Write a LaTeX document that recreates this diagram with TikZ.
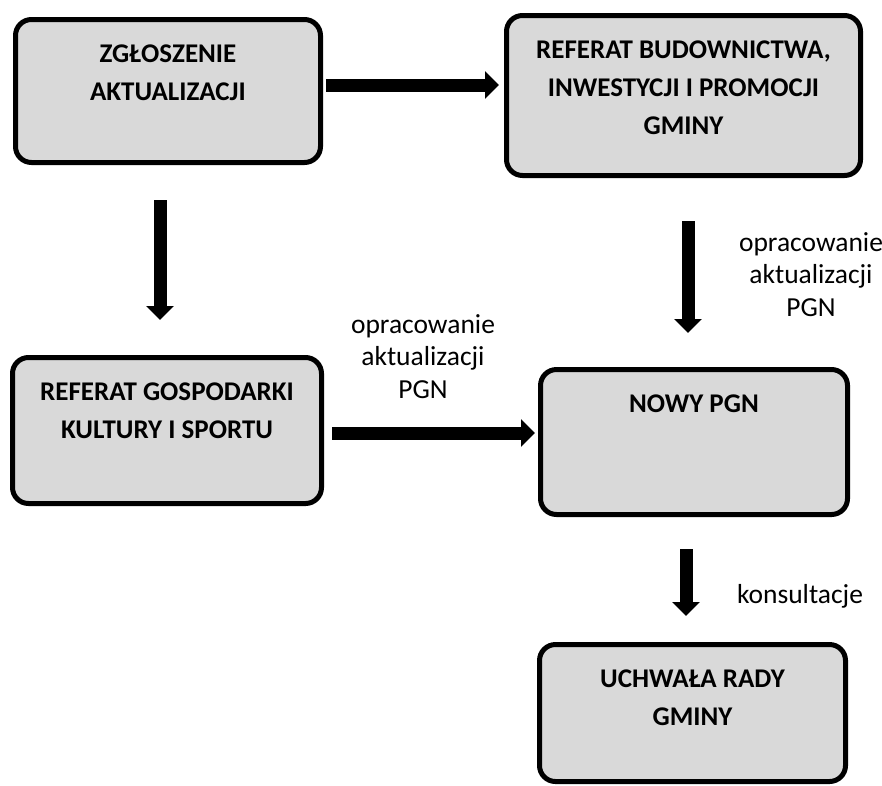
\documentclass[tikz,border=0pt]{standalone}
\usepackage{fontspec}
\setmainfont{Carlito}
\usetikzlibrary{arrows.meta}
\definecolor{boxgray}{HTML}{D9D9D9}

\tikzset{
  box/.style 2 args={draw, line width=5pt, rounded corners=16pt, fill=boxgray,
    inner sep=0pt, outer sep=0pt, anchor=north west,
    execute at begin node={\begin{minipage}[t][#2][t]{#1}\centering
      \fontsize{27}{38}\selectfont\bfseries\rule{0pt}{43pt}},
    execute at end node={\end{minipage}}},
  fat/.style={line width=13pt, -{Triangle[width=27pt,length=14pt]}},
  lbl/.style={align=center, font=\fontsize{27.5}{32.5}\selectfont, inner sep=0pt, anchor=base}
}

\begin{document}
\begin{tikzpicture}[x=1pt,y=-1pt]
	\useasboundingbox (0,0) rectangle (882,785);

	% boxes
	\node[box={305pt}{143pt}] (zgl) at (15.5,19.5) {ZGŁOSZENIE\\AKTUALIZACJI};
	\node[box={354pt}{160pt}] (bud) at (506.5,15.5) {REFERAT BUDOWNICTWA,\\INWESTYCJI I PROMOCJI\\GMINY};
	\node[box={309pt}{146pt}] (gos) at (12.5,357.5) {REFERAT GOSPODARKI\\KULTURY I SPORTU};
	\node[box={307pt}{145pt}] (pgn) at (540.5,369.5) {NOWY PGN};
	\node[box={306pt}{137pt}] (uch) at (539.5,644.5) {UCHWAŁA RADY\\GMINY};

	% labels (base = last line)
	\node[lbl] (opr1) at (423,398) {opracowanie\\aktualizacji\\PGN};
	\node[lbl] (opr2) at (811,316) {opracowanie\\aktualizacji\\PGN};
	\node[lbl] (kons) at (800,603) {konsultacje};

	% arrows
	\draw[fat, shorten <=5.5pt, shorten >=7.5pt] ([yshift=6pt]zgl.east) -- ([yshift=6pt]zgl.east -| bud.west);
	\draw[fat, shorten <=37.5pt, shorten >=37.5pt] ([xshift=-8pt]zgl.south) -- ([xshift=-8pt]zgl.south |- gos.north);
	\draw[fat, shorten <=10.5pt, shorten >=5.5pt] ([yshift=-2.5pt]gos.east) -- ([yshift=-2.5pt]gos.east -| pgn.west);
	\draw[fat, shorten <=45.5pt, shorten >=36.5pt] ([xshift=4.5pt]bud.south) -- ([xshift=4.5pt]bud.south |- pgn.north);
	\draw[fat, shorten <=34.5pt, shorten >=28.5pt] ([xshift=-8pt]pgn.south) -- ([xshift=-8pt]pgn.south |- uch.north);
\end{tikzpicture}
\end{document}
